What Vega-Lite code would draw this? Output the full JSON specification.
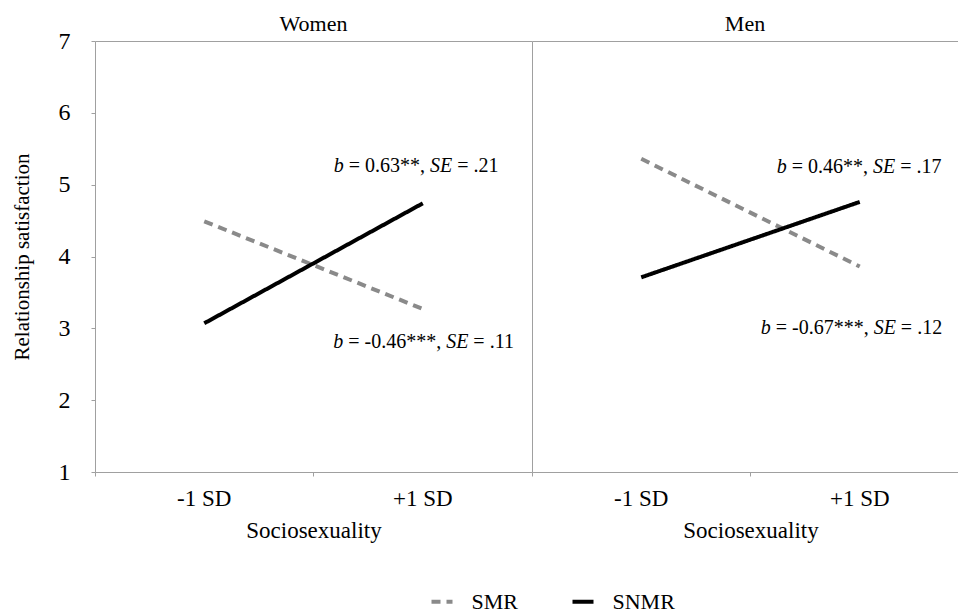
{
  "$schema": "https://vega.github.io/schema/vega-lite/v6.json",
  "background": "white",
  "padding": {"left": 10, "top": 12, "right": 0, "bottom": 0},
  "config": {
    "font": "Liberation Serif",
    "view": {"stroke": null},
    "axis": {"labelFont": "Liberation Serif", "titleFont": "Liberation Serif", "labelColor": "#000000", "titleColor": "#000000", "titleFontWeight": "normal", "tickColor": "#a0a0a0", "domainColor": "#a0a0a0", "gridColor": "#a0a0a0"},
    "title": {"font": "Liberation Serif", "fontSize": 22, "fontWeight": "normal", "color": "#000000"},
    "text": {"font": "Liberation Serif", "color": "#000000"}
  },
  "datasets": {
    "lines": [
      {"gender": "Women", "series": "SMR", "sociosexuality": "-1 SD", "satisfaction": 4.49},
      {"gender": "Women", "series": "SMR", "sociosexuality": "+1 SD", "satisfaction": 3.27},
      {"gender": "Women", "series": "SNMR", "sociosexuality": "-1 SD", "satisfaction": 3.07},
      {"gender": "Women", "series": "SNMR", "sociosexuality": "+1 SD", "satisfaction": 4.74},
      {"gender": "Men", "series": "SMR", "sociosexuality": "-1 SD", "satisfaction": 5.36},
      {"gender": "Men", "series": "SMR", "sociosexuality": "+1 SD", "satisfaction": 3.86},
      {"gender": "Men", "series": "SNMR", "sociosexuality": "-1 SD", "satisfaction": 3.71},
      {"gender": "Men", "series": "SNMR", "sociosexuality": "+1 SD", "satisfaction": 4.76}
    ],
    "notes": [
      {"gender": "Women", "pos": "upper", "coef": "= 0.63**,", "tail": "= .21"},
      {"gender": "Women", "pos": "lower", "coef": "= -0.46***,", "tail": "= .11"},
      {"gender": "Men", "pos": "upper", "coef": "= 0.46**,", "tail": "= .17"},
      {"gender": "Men", "pos": "lower", "coef": "= -0.67***,", "tail": "= .12"}
    ]
  },
  "spacing": 0,
  "bounds": "flush",
  "resolve": {"scale": {"x": "independent", "y": "independent", "color": "independent", "strokeDash": "independent"}},
  "hconcat": [
    {
      "width": 437,
      "height": 431,
      "view": {"stroke": "#a0a0a0"},
      "title": {"text": "Women", "baseline": "bottom", "offset": -29},
      "layer": [
        {
          "data": {"name": "lines"},
          "transform": [{"filter": "datum.gender === 'Women'"}],
          "mark": {"type": "line", "strokeWidth": 4, "strokeCap": "butt"},
          "encoding": {
            "x": {"field": "sociosexuality", "type": "nominal",
              "scale": {"type": "band", "domain": ["-1 SD", "+1 SD"], "paddingInner": 0, "paddingOuter": 0},
              "axis": {"title": "Sociosexuality", "titleFontSize": 23, "labelFontSize": 23, "labelAngle": 0, "domain": false, "ticks": true, "tickSize": 4, "bandPosition": 0, "labelPadding": 11, "titlePadding": 9}},
            "y": {"field": "satisfaction", "type": "quantitative",
              "scale": {"domain": [1, 7], "nice": false, "zero": false},
              "axis": {"title": "Relationship satisfaction", "titleFontSize": 21, "labelFontSize": 24, "format": "d", "values": [1, 2, 3, 4, 5, 6, 7], "grid": false, "domain": false, "tickSize": 4, "labelPadding": 21, "titlePadding": 26}},
            "color": {"field": "series", "type": "nominal",
              "scale": {"domain": ["SMR", "SNMR"], "range": ["#8a8a8a", "#000000"]},
              "legend": {"orient": "none", "legendX": 334.5, "legendY": 548, "direction": "horizontal", "title": null, "symbolType": "stroke", "symbolStrokeWidth": 4, "symbolSize": 441, "labelFont": "Liberation Serif", "labelFontSize": 22, "labelColor": "#000000", "labelOffset": 17, "columnPadding": 46, "padding": 0}},
            "strokeDash": {"field": "series", "type": "nominal",
              "scale": {"domain": ["SMR", "SNMR"], "range": [[9, 6], [1, 0]]},
              "legend": {"orient": "none", "legendX": 334.5, "legendY": 548, "direction": "horizontal", "title": null, "symbolType": "stroke", "symbolStrokeWidth": 4, "symbolSize": 441, "labelFont": "Liberation Serif", "labelFontSize": 22, "labelColor": "#000000", "labelOffset": 17, "columnPadding": 46, "padding": 0}}
          }
        },
        {
          "data": {"name": "notes"},
          "transform": [{"filter": "datum.gender === 'Women' && datum.pos === 'upper'"}],
          "mark": {"type": "text", "text": "b", "fontStyle": "italic", "align": "left", "baseline": "alphabetic", "fontSize": 20, "dx": -89},
          "encoding": {"x": {"datum": "+1 SD", "type": "nominal"}, "y": {"datum": 5.17, "type": "quantitative"}}
        },
        {
          "data": {"name": "notes"},
          "transform": [{"filter": "datum.gender === 'Women' && datum.pos === 'upper'"}],
          "mark": {"type": "text", "align": "left", "baseline": "alphabetic", "fontSize": 20, "dx": -74},
          "encoding": {"x": {"datum": "+1 SD", "type": "nominal"}, "y": {"datum": 5.17, "type": "quantitative"}, "text": {"field": "coef"}}
        },
        {
          "data": {"name": "notes"},
          "transform": [{"filter": "datum.gender === 'Women' && datum.pos === 'upper'"}],
          "mark": {"type": "text", "text": "SE", "fontStyle": "italic", "align": "left", "baseline": "alphabetic", "fontSize": 20, "dx": 7.3},
          "encoding": {"x": {"datum": "+1 SD", "type": "nominal"}, "y": {"datum": 5.17, "type": "quantitative"}}
        },
        {
          "data": {"name": "notes"},
          "transform": [{"filter": "datum.gender === 'Women' && datum.pos === 'upper'"}],
          "mark": {"type": "text", "align": "left", "baseline": "alphabetic", "fontSize": 20, "dx": 34.5},
          "encoding": {"x": {"datum": "+1 SD", "type": "nominal"}, "y": {"datum": 5.17, "type": "quantitative"}, "text": {"field": "tail"}}
        },
        {
          "data": {"name": "notes"},
          "transform": [{"filter": "datum.gender === 'Women' && datum.pos === 'lower'"}],
          "mark": {"type": "text", "text": "b", "fontStyle": "italic", "align": "left", "baseline": "alphabetic", "fontSize": 20, "dx": -89.5},
          "encoding": {"x": {"datum": "+1 SD", "type": "nominal"}, "y": {"datum": 2.73, "type": "quantitative"}}
        },
        {
          "data": {"name": "notes"},
          "transform": [{"filter": "datum.gender === 'Women' && datum.pos === 'lower'"}],
          "mark": {"type": "text", "align": "left", "baseline": "alphabetic", "fontSize": 20, "dx": -74.5},
          "encoding": {"x": {"datum": "+1 SD", "type": "nominal"}, "y": {"datum": 2.73, "type": "quantitative"}, "text": {"field": "coef"}}
        },
        {
          "data": {"name": "notes"},
          "transform": [{"filter": "datum.gender === 'Women' && datum.pos === 'lower'"}],
          "mark": {"type": "text", "text": "SE", "fontStyle": "italic", "align": "left", "baseline": "alphabetic", "fontSize": 20, "dx": 23.4},
          "encoding": {"x": {"datum": "+1 SD", "type": "nominal"}, "y": {"datum": 2.73, "type": "quantitative"}}
        },
        {
          "data": {"name": "notes"},
          "transform": [{"filter": "datum.gender === 'Women' && datum.pos === 'lower'"}],
          "mark": {"type": "text", "align": "left", "baseline": "alphabetic", "fontSize": 20, "dx": 50.6},
          "encoding": {"x": {"datum": "+1 SD", "type": "nominal"}, "y": {"datum": 2.73, "type": "quantitative"}, "text": {"field": "tail"}}
        }
      ]
    },
    {
      "width": 426,
      "height": 431,
      "title": {"text": "Men", "baseline": "bottom", "offset": -17},
      "layer": [
        {
          "data": {"name": "lines"},
          "transform": [{"filter": "datum.gender === 'Men'"}],
          "mark": {"type": "line", "strokeWidth": 4, "strokeCap": "butt"},
          "encoding": {
            "x": {"field": "sociosexuality", "type": "nominal",
              "scale": {"type": "band", "domain": ["-1 SD", "+1 SD"], "range": [0, 437], "paddingInner": 0, "paddingOuter": 0},
              "axis": {"title": "Sociosexuality", "titleFontSize": 23, "labelFontSize": 23, "labelAngle": 0, "domain": false, "ticks": true, "tickSize": 4, "bandPosition": 0, "labelPadding": 11, "titlePadding": 9}},
            "y": {"field": "satisfaction", "type": "quantitative",
              "scale": {"domain": [1, 7], "nice": false, "zero": false},
              "axis": {"title": null, "values": [1, 7], "labels": false, "ticks": false, "domain": false, "grid": true, "gridColor": "#a0a0a0"}},
            "color": {"field": "series", "type": "nominal",
              "scale": {"domain": ["SMR", "SNMR"], "range": ["#8a8a8a", "#000000"]}, "legend": null},
            "strokeDash": {"field": "series", "type": "nominal",
              "scale": {"domain": ["SMR", "SNMR"], "range": [[9, 6], [1, 0]]}, "legend": null}
          }
        },
        {
          "data": {"name": "notes"},
          "transform": [{"filter": "datum.gender === 'Men' && datum.pos === 'upper'"}],
          "mark": {"type": "text", "text": "b", "fontStyle": "italic", "align": "left", "baseline": "alphabetic", "fontSize": 20, "dx": -83},
          "encoding": {"x": {"datum": "+1 SD", "type": "nominal"}, "y": {"datum": 5.16, "type": "quantitative"}}
        },
        {
          "data": {"name": "notes"},
          "transform": [{"filter": "datum.gender === 'Men' && datum.pos === 'upper'"}],
          "mark": {"type": "text", "align": "left", "baseline": "alphabetic", "fontSize": 20, "dx": -68},
          "encoding": {"x": {"datum": "+1 SD", "type": "nominal"}, "y": {"datum": 5.16, "type": "quantitative"}, "text": {"field": "coef"}}
        },
        {
          "data": {"name": "notes"},
          "transform": [{"filter": "datum.gender === 'Men' && datum.pos === 'upper'"}],
          "mark": {"type": "text", "text": "SE", "fontStyle": "italic", "align": "left", "baseline": "alphabetic", "fontSize": 20, "dx": 13.3},
          "encoding": {"x": {"datum": "+1 SD", "type": "nominal"}, "y": {"datum": 5.16, "type": "quantitative"}}
        },
        {
          "data": {"name": "notes"},
          "transform": [{"filter": "datum.gender === 'Men' && datum.pos === 'upper'"}],
          "mark": {"type": "text", "align": "left", "baseline": "alphabetic", "fontSize": 20, "dx": 40.5},
          "encoding": {"x": {"datum": "+1 SD", "type": "nominal"}, "y": {"datum": 5.16, "type": "quantitative"}, "text": {"field": "tail"}}
        },
        {
          "data": {"name": "notes"},
          "transform": [{"filter": "datum.gender === 'Men' && datum.pos === 'lower'"}],
          "mark": {"type": "text", "text": "b", "fontStyle": "italic", "align": "left", "baseline": "alphabetic", "fontSize": 20, "dx": -99},
          "encoding": {"x": {"datum": "+1 SD", "type": "nominal"}, "y": {"datum": 2.92, "type": "quantitative"}}
        },
        {
          "data": {"name": "notes"},
          "transform": [{"filter": "datum.gender === 'Men' && datum.pos === 'lower'"}],
          "mark": {"type": "text", "align": "left", "baseline": "alphabetic", "fontSize": 20, "dx": -84},
          "encoding": {"x": {"datum": "+1 SD", "type": "nominal"}, "y": {"datum": 2.92, "type": "quantitative"}, "text": {"field": "coef"}}
        },
        {
          "data": {"name": "notes"},
          "transform": [{"filter": "datum.gender === 'Men' && datum.pos === 'lower'"}],
          "mark": {"type": "text", "text": "SE", "fontStyle": "italic", "align": "left", "baseline": "alphabetic", "fontSize": 20, "dx": 13.9},
          "encoding": {"x": {"datum": "+1 SD", "type": "nominal"}, "y": {"datum": 2.92, "type": "quantitative"}}
        },
        {
          "data": {"name": "notes"},
          "transform": [{"filter": "datum.gender === 'Men' && datum.pos === 'lower'"}],
          "mark": {"type": "text", "align": "left", "baseline": "alphabetic", "fontSize": 20, "dx": 41.1},
          "encoding": {"x": {"datum": "+1 SD", "type": "nominal"}, "y": {"datum": 2.92, "type": "quantitative"}, "text": {"field": "tail"}}
        }
      ]
    }
  ]
}
